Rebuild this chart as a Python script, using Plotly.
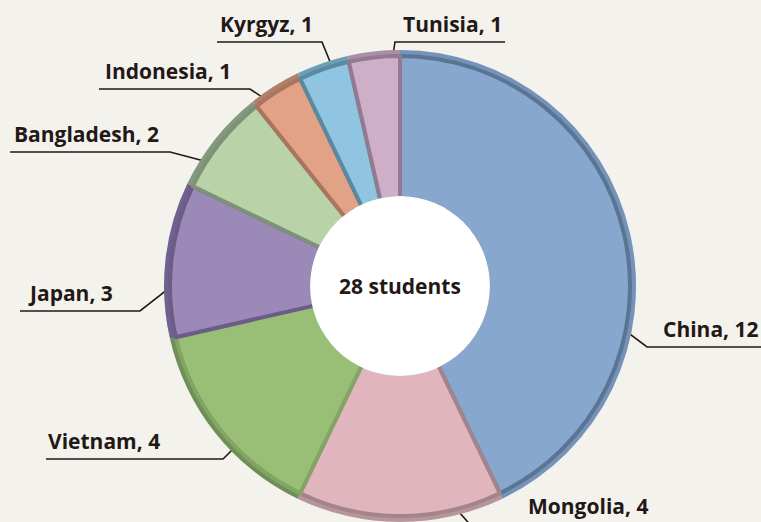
import math
import plotly.graph_objects as go

# ---- data ----
countries = ["China", "Mongolia", "Vietnam", "Japan", "Bangladesh", "Indonesia", "Kyrgyz", "Tunisia"]
students = [12, 4, 4, 3, 2, 1, 1, 1]
center_unit = "students"

# ---- styles ----
fill_colors = ["#87a7cf", "#e0b5bd", "#99bf76", "#9b89b8", "#b9d2a8", "#e2a285", "#8fc5e1", "#cfaec8"]
band_colors = ["#7592b8", "#b8949b", "#6e9057", "#706190", "#84997d", "#b27e68", "#6b9fb8", "#a98ea6"]
edge_colors = ["#5a7594", "#a3848b", "#82a565", "#6b5c88", "#7c9377", "#a87560", "#5b899f", "#927a92"]
TEXT = "#231815"
BG = "#f3f2ed"
FONT = "Open Sans"

W, H = 761, 522
CX, CY = 400, 286
R_OUT, R_IN, R_HOLE = 236, 230, 88

# label placement: position inside slice (fraction of slice span, fraction of radius),
# elbow point of the leader, far end of underline, text x (and optional text bottom y)
label_layout = {
    "China":      dict(f=0.56, r=0.65, elbow=(647, 347), end=775, tx=662),
    "Mongolia":   dict(f=0.44, r=0.72, elbow=(474, 529), end=680, tx=527, ty=521),
    "Vietnam":    dict(f=0.39, r=0.70, elbow=(223, 459), end=46, tx=47),
    "Japan":      dict(f=0.66, r=0.77, elbow=(140, 311), end=20, tx=27),
    "Bangladesh": dict(f=0.48, r=0.76, elbow=(170, 152), end=10, tx=13),
    "Indonesia":  dict(f=0.59, r=0.80, elbow=(250, 89), end=99, tx=104),
    "Kyrgyz":     dict(f=0.75, r=0.79, elbow=(322, 42), end=217, tx=219),
    "Tunisia":    dict(f=0.68, r=0.80, elbow=(395, 42), end=505, tx=402),
}


def dom(r):
    return dict(x=[(CX - r) / W, (CX + r) / W],
                y=[max(0, (H - CY - r) / H), (H - CY + r) / H])


fig = go.Figure()

# outer bevel band
fig.add_trace(go.Pie(
    labels=countries, values=students, sort=False, direction="clockwise", rotation=0,
    hole=R_HOLE / R_OUT, domain=dom(R_OUT), textinfo="none", hoverinfo="skip",
    marker=dict(colors=band_colors, line=dict(width=0)), showlegend=False,
))
# main slices
fig.add_trace(go.Pie(
    labels=countries, values=students, sort=False, direction="clockwise", rotation=0,
    hole=R_HOLE / R_IN, domain=dom(R_IN), textinfo="none", hoverinfo="skip",
    marker=dict(colors=fill_colors, line=dict(width=4, color=edge_colors)), showlegend=False,
))

total = sum(students)
annotations = []
cum = 0
for name, v in zip(countries, students):
    lay = label_layout[name]
    a0 = cum / total * 360
    a1 = (cum + v) / total * 360
    cum += v
    ang = math.radians(a0 + (a1 - a0) * lay["f"])
    ax = CX + lay["r"] * R_OUT * math.sin(ang)
    ay = CY - lay["r"] * R_OUT * math.cos(ang)
    ex, ey = lay["elbow"]
    fig.add_trace(go.Scatter(
        x=[ax, ex, lay["end"]], y=[ay, ey, ey], mode="lines",
        line=dict(color=TEXT, width=1.6), hoverinfo="skip", showlegend=False,
    ))
    annotations.append(dict(
        x=lay["tx"], y=lay.get("ty", ey - 3), xref="x", yref="y", xanchor="left", yanchor="bottom",
        text=f"<b>{name}, {v}</b>", showarrow=False, borderpad=0,
        font=dict(family=FONT, size=21, color=TEXT),
    ))

annotations.append(dict(
    x=CX, y=CY, xref="x", yref="y", xanchor="center", yanchor="middle",
    text=f"<b>{total} {center_unit}</b>", showarrow=False,
    font=dict(family=FONT, size=21, color=TEXT),
))

fig.update_layout(
    width=W, height=H, margin=dict(l=0, r=0, t=0, b=0),
    paper_bgcolor=BG, plot_bgcolor="rgba(0,0,0,0)",
    xaxis=dict(range=[0, W], visible=False, fixedrange=True),
    yaxis=dict(range=[H, 0], visible=False, fixedrange=True),
    shapes=[dict(type="circle", xref="x", yref="y",
                 x0=CX - R_HOLE - 2, x1=CX + R_HOLE + 2, y0=CY - R_HOLE - 2, y1=CY + R_HOLE + 2,
                 fillcolor="white", line=dict(width=0), layer="above")],
    annotations=annotations,
    showlegend=False,
)

fig.write_html("out.html", config={"displayModeBar": False},
               post_script="document.body.style.margin='0';document.body.style.overflow='hidden';")
